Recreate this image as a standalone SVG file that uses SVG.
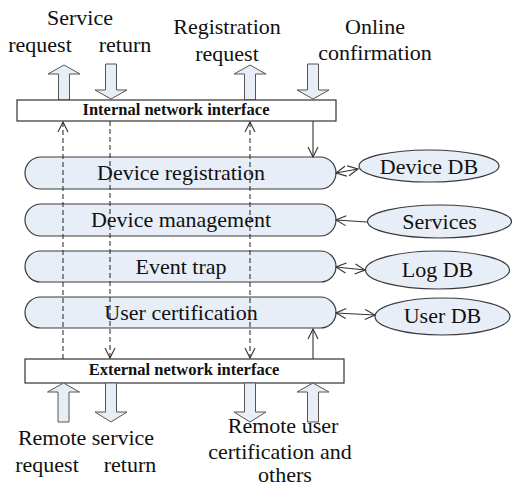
<svg xmlns="http://www.w3.org/2000/svg" width="513" height="486" viewBox="0 0 513 486" font-family="'Liberation Serif', 'Times New Roman', 'DejaVu Serif', serif">
  <style>
    .box { fill: #ffffff; stroke: #333333; stroke-width: 1.2; }
    .pill { fill: #e8eef7; stroke: #3a3a3a; stroke-width: 1.2; }
    .fat { fill: #e8eef7; stroke: #555555; stroke-width: 1; }
    text { font-family: 'Liberation Serif', 'Times New Roman', 'DejaVu Serif', serif; }
    .t { font-size: 22px; fill: #111111; text-anchor: middle; }
    .tb { font-size: 16.5px; font-weight: bold; fill: #111111; text-anchor: middle; }
    .wire { stroke: #333333; stroke-width: 1.1; fill: none; }
    .dash { stroke-dasharray: 5 3; }
  </style>
  <defs>
    <marker id="head" viewBox="0 0 12 12" refX="11" refY="6" markerWidth="12" markerHeight="12" markerUnits="userSpaceOnUse" orient="auto-start-reverse">
      <path d="M1,1 L11,6 L1,11" fill="none" stroke="#333333" stroke-width="1.1"/>
    </marker>
  </defs>

  <!-- external labels, top -->
  <g id="labels-top">
    <text class="t" x="80" y="25">Service</text>
    <text class="t" x="40" y="52">request</text>
    <text class="t" x="125" y="52">return</text>
    <text class="t" x="227" y="34">Registration</text>
    <text class="t" x="227" y="61">request</text>
    <text class="t" x="375" y="34">Online</text>
    <text class="t" x="375" y="60">confirmation</text>
  </g>

  <!-- block arrows, top -->
  <g id="io-top">
    <polygon class="fat" points="58.5,100 58.5,74 48,74 64,65 80,74 69.5,74 69.5,100"/>
    <polygon class="fat" points="105.5,64 105.5,90 95,90 111,99 127,90 116.5,90 116.5,64"/>
    <polygon class="fat" points="244.5,100 244.5,74 234,74 250,65 266,74 255.5,74 255.5,100"/>
    <polygon class="fat" points="307.5,64 307.5,90 297,90 313,99 329,90 318.5,90 318.5,64"/>
  </g>

  <g id="internal-interface">
    <rect class="box" x="17" y="100" width="319" height="21"/>
    <text class="tb" x="176" y="115">Internal network interface</text>
  </g>

  <g id="device-registration">
    <rect class="pill" x="25" y="157" width="311" height="32" rx="16"/>
    <text class="t" x="181" y="180">Device registration</text>
  </g>
  <g id="device-management">
    <rect class="pill" x="25" y="204" width="311" height="32" rx="16"/>
    <text class="t" x="181" y="227">Device management</text>
  </g>
  <g id="event-trap">
    <rect class="pill" x="25" y="251" width="311" height="31" rx="15.5"/>
    <text class="t" x="181" y="274">Event trap</text>
  </g>
  <g id="user-certification">
    <rect class="pill" x="25" y="297" width="311" height="31" rx="15.5"/>
    <text class="t" x="181" y="320">User certification</text>
  </g>

  <g id="device-db">
    <ellipse class="pill" cx="429" cy="166" rx="70" ry="16"/>
    <text class="t" x="429" y="174">Device DB</text>
  </g>
  <g id="services">
    <ellipse class="pill" cx="439.5" cy="221.5" rx="72" ry="16.5"/>
    <text class="t" x="439.5" y="229">Services</text>
  </g>
  <g id="log-db">
    <ellipse class="pill" cx="437.5" cy="270" rx="72" ry="19"/>
    <text class="t" x="437.5" y="277">Log DB</text>
  </g>
  <g id="user-db">
    <ellipse class="pill" cx="442.5" cy="316.5" rx="67.5" ry="18.5"/>
    <text class="t" x="442.5" y="323">User DB</text>
  </g>

  <g id="external-interface">
    <rect class="box" x="25" y="359" width="319" height="24"/>
    <text class="tb" x="184" y="375">External network interface</text>
  </g>

  <!-- block arrows, bottom -->
  <g id="io-bottom">
    <polygon class="fat" points="58,422 58,392 47.5,392 63.5,383 79.5,392 69,392 69,422"/>
    <polygon class="fat" points="105.5,383 105.5,412 95,412 111,422 127,412 116.5,412 116.5,383"/>
    <polygon class="fat" points="244.5,383 244.5,412 234,412 250,422 266,412 255.5,412 255.5,383"/>
    <polygon class="fat" points="307.5,422 307.5,392 297,392 313,383 329,392 318.5,392 318.5,422"/>
  </g>

  <g id="labels-bottom">
    <text class="t" x="86" y="445">Remote service</text>
    <text class="t" x="47" y="472">request</text>
    <text class="t" x="130" y="472">return</text>
    <text class="t" x="283" y="433">Remote user</text>
    <text class="t" x="280" y="459">certification and</text>
    <text class="t" x="285" y="482">others</text>
  </g>

  <g id="connectors">
    <!-- pass-through paths between the two interfaces -->
    <line class="wire dash" x1="63" y1="359" x2="63" y2="122" marker-end="url(#head)"/>
    <line class="wire dash" x1="110" y1="121" x2="110" y2="358" marker-end="url(#head)"/>
    <line class="wire dash" x1="250" y1="122" x2="250" y2="358" marker-start="url(#head)" marker-end="url(#head)"/>
    <!-- interface to module links -->
    <line class="wire" x1="313" y1="121" x2="313" y2="157" marker-end="url(#head)"/>
    <line class="wire" x1="313" y1="359" x2="313" y2="329" marker-end="url(#head)"/>
    <!-- module to store links -->
    <line class="wire" x1="336" y1="173" x2="358" y2="169" marker-start="url(#head)" marker-end="url(#head)"/>
    <line class="wire" x1="367" y1="222" x2="336" y2="220" marker-end="url(#head)"/>
    <line class="wire" x1="336" y1="267" x2="365" y2="270" marker-start="url(#head)" marker-end="url(#head)"/>
    <line class="wire" x1="336" y1="313" x2="375" y2="315" marker-start="url(#head)" marker-end="url(#head)"/>
  </g>
</svg>
